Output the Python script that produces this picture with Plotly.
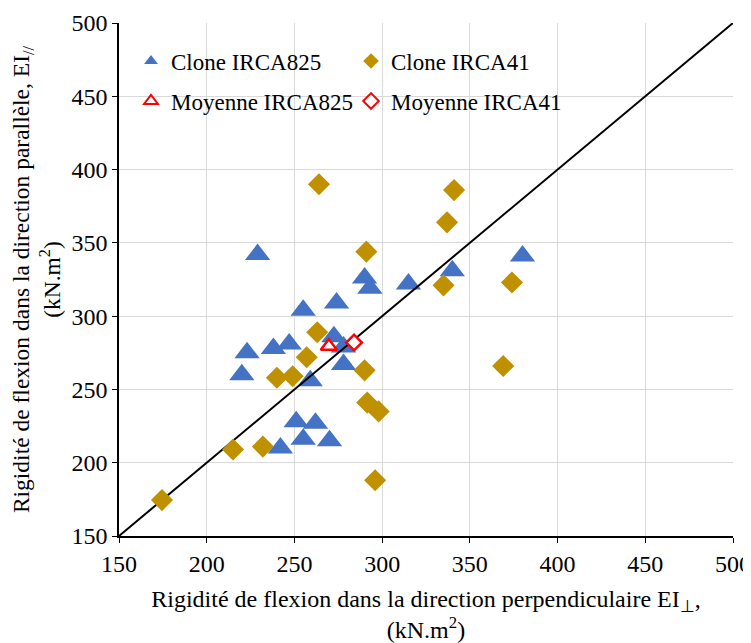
import plotly.graph_objects as go

# Data (kN.m2)
irca825_perp = [229, 290, 293, 274, 255, 272.5, 278, 278, 238, 247, 223, 220, 259, 251, 262, 255, 242, 270, 315, 340, 380]
irca825_par = [342, 326, 319, 309, 304, 286, 279, 267, 278, 281, 275, 260, 256, 228, 227, 216, 210, 215, 322, 331, 341]

irca41_perp = [291, 263, 257, 240, 249, 290, 291.5, 298, 215, 232, 296, 264, 341, 337, 335, 374, 174.5, 369]
irca41_par = [344, 289, 272, 258, 259, 263, 241, 235, 209, 211, 188, 390, 386, 364, 321, 323, 174.5, 266]

mean825_perp = [269.6]
mean825_par = [279.5]
mean41_perp = [284]
mean41_par = [282]

diag = [150, 500]
ticks = [150, 200, 250, 300, 350, 400, 450, 500]

FONT = "Liberation Serif, Times New Roman, serif"
BLUE = "#4472C4"
GOLD = "#BF9000"
RED = "#FF0000"

fig = go.Figure()

fig.add_trace(go.Scatter(
    x=irca825_perp, y=irca825_par, mode="markers", name="Clone IRCA825",
    marker=dict(symbol="triangle-up", size=22, color=BLUE, line=dict(width=0)),
    legend="legend"))

fig.add_trace(go.Scatter(
    x=diag, y=diag, mode="lines", showlegend=False,
    line=dict(color="black", width=2)))

fig.add_trace(go.Scatter(
    x=irca41_perp, y=irca41_par, mode="markers", name="Clone IRCA41",
    marker=dict(symbol="diamond", size=17, color=GOLD, line=dict(width=0)),
    legend="legend2"))

fig.add_trace(go.Scatter(
    x=mean825_perp, y=mean825_par, mode="markers", name="Moyenne IRCA825",
    marker=dict(symbol="triangle-up", size=14, color="white", line=dict(color=RED, width=2.5)),
    legend="legend3"))

fig.add_trace(go.Scatter(
    x=mean41_perp, y=mean41_par, mode="markers", name="Moyenne IRCA41",
    marker=dict(symbol="diamond", size=12, color="white", line=dict(color=RED, width=2.5)),
    legend="legend4"))

# The page places the figure 8 px in from the top-left corner.
OFF = 8
W, H = 751 - OFF, 643 - OFF
L, R, T, B = 119 - OFF, 18, 23 - OFF, 107
pw = W - L - R
ph = H - T - B

def px_x(p):
    return (p - OFF - L) / pw

def px_y(p):
    return (H - B - (p - OFF)) / ph

leg_common = dict(bgcolor="rgba(0,0,0,0)", font=dict(family=FONT, size=23, color="black"),
                  itemsizing="constant", xanchor="left", yanchor="middle", orientation="h")

fig.update_layout(
    width=W, height=H,
    margin=dict(l=L, r=R, t=T, b=B, autoexpand=False),
    paper_bgcolor="white", plot_bgcolor="white",
    font=dict(family=FONT, size=22, color="black"),
    legend=dict(x=px_x(131), y=px_y(61), **leg_common),
    legend2=dict(x=px_x(351), y=px_y(61), **leg_common),
    legend3=dict(x=px_x(131), y=px_y(101), **leg_common),
    legend4=dict(x=px_x(351), y=px_y(101), **leg_common),
    xaxis=dict(
        range=[150, 500], tickvals=ticks, showgrid=True, gridcolor="#D9D9D9", gridwidth=1,
        zeroline=False, showline=True, linecolor="black", linewidth=1.5,
        ticks="outside", ticklen=5, tickcolor="black",
        tickfont=dict(family=FONT, size=24, color="black"),
        title=dict(text="Rigidité de flexion dans la direction perpendiculaire EI<sub>⊥</sub>,<br>(kN.m<sup>2</sup>)",
                   font=dict(family=FONT, size=24, color="black"), standoff=27),
        automargin=False,
    ),
    yaxis=dict(
        range=[150, 500], tickvals=ticks, showgrid=True, gridcolor="#D9D9D9", gridwidth=1,
        zeroline=False, showline=True, linecolor="black", linewidth=1.5,
        ticks="outside", ticklen=5, tickcolor="black",
        tickfont=dict(family=FONT, size=24, color="black"),
        title=dict(text="Rigidité de flexion dans la direction parallèle, EI<sub>//</sub><br>(kN.m<sup>2</sup>)",
                   font=dict(family=FONT, size=23.5, color="black"), standoff=12),
        automargin=False,
    ),
)

fig.write_html("out.html")
